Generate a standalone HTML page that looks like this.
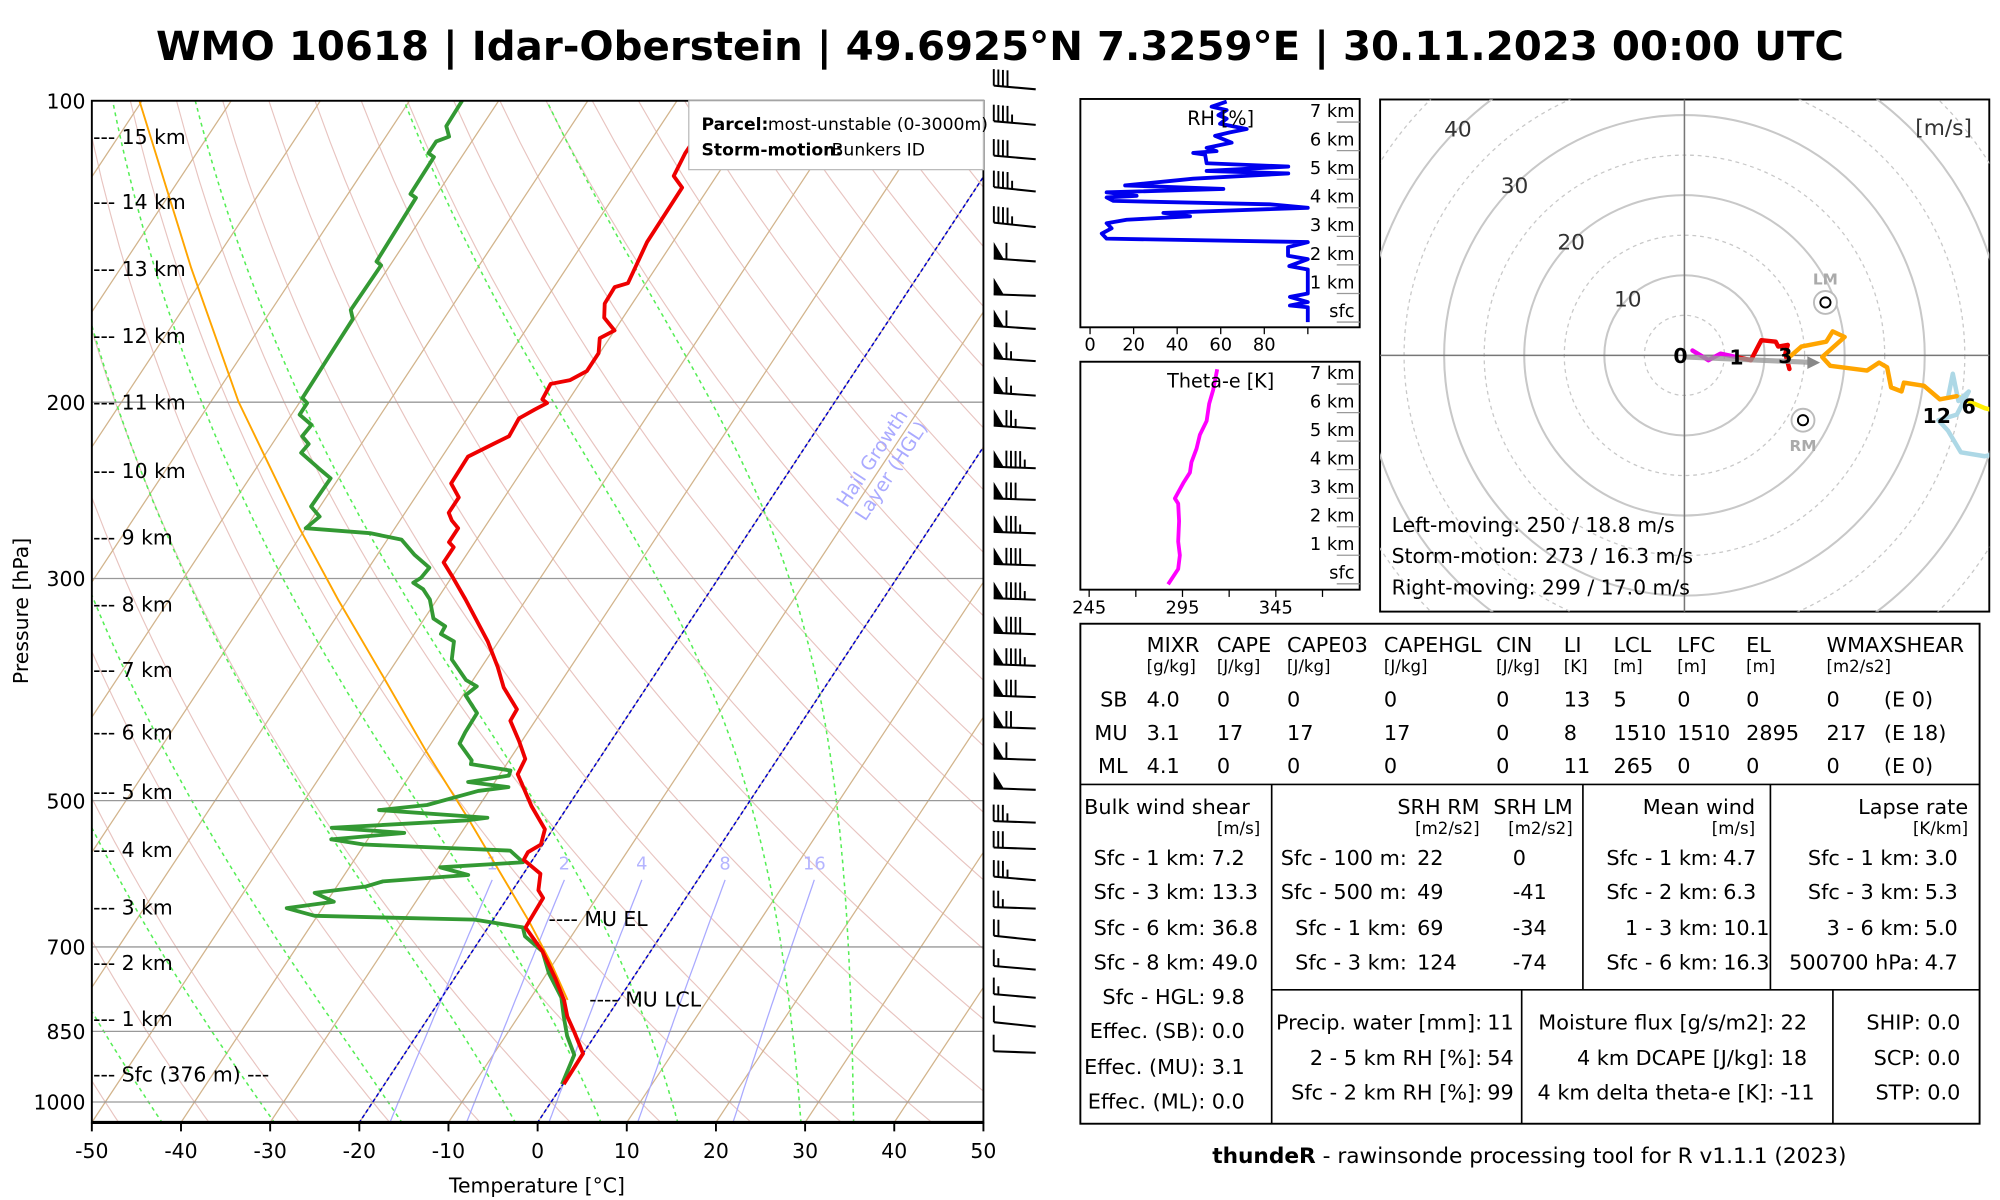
<!DOCTYPE html>
<html><head><meta charset="utf-8"><style>
html,body{margin:0;padding:0;background:#fff;}
svg{display:block;font-family:"DejaVu Sans","Liberation Sans",sans-serif;}
</style></head><body>
<svg id="root" width="2000" height="1200" viewBox="0 0 1568 940.8" preserveAspectRatio="none" xmlns="http://www.w3.org/2000/svg">
<defs>
<clipPath id="skclip"><rect x="72" y="79" width="699" height="801"/></clipPath>
<clipPath id="hodoclip"><rect x="1082" y="78" width="477.6" height="401.5"/></clipPath>
<clipPath id="rhclip"><rect x="847" y="77.6" width="219" height="179"/></clipPath>
<clipPath id="thclip"><rect x="847" y="283.6" width="219" height="178.7"/></clipPath>
</defs>
<text x="784" y="47" text-anchor="middle" font-size="31.6" font-weight="bold">WMO 10618 | Idar-Oberstein | 49.6925°N 7.3259°E | 30.11.2023 00:00 UTC</text>
<g id="skewt">
<rect x="72" y="79" width="699" height="801" fill="#fff"/>
<g id="skbg" clip-path="url(#skclip)"></g>
<g id="skdata" clip-path="url(#skclip)"></g>
<g id="skaxes"></g>
</g>
<g id="barbs"></g>
<g id="rhpanel"></g>
<g id="thpanel"></g>
<g id="hodo"></g>
<g id="tables"></g>
<text x="1199" y="912" text-anchor="middle" font-size="17"><tspan font-weight="bold">thundeR</tspan> - rawinsonde processing tool for R v1.1.1 (2023)</text>
</svg>
<script>
// ---------- Skew-T data ----------
const tempP = [100,112.8,118.9,122.1,138.4,152.1,153.5,159.4,164.7,169.6,172.6,178.7,186.2,190.1,191.8,198.7,200.4,203.4,207.6,216.3,220.2,226.7,241.1,249,257.9,262.5,267.2,276,279.2,289.1,299.5,314.8,346.7,367.7,385.5,405.3,416.1,436.1,454.3,470.6,506.4,533.9,553.1,562.9,572.9,591.6,614.5,625.5,669.2,707.4,752.2,790.9,821.6,851.1,894.5,959.8];
const tempT = [-55.1,-55.2,-54.8,-53.0,-52.9,-52.0,-53.2,-53.1,-52.1,-50.0,-51.1,-50.1,-50.1,-51.3,-53.2,-53.0,-52.2,-53.1,-54.2,-54.0,-55.2,-57.1,-57.0,-55.1,-55.1,-54.2,-52.9,-52.9,-52.0,-52.0,-49.8,-46.8,-41.2,-38.2,-36.0,-32.9,-32.8,-30.3,-28.3,-28.0,-24.1,-20.9,-20.2,-21.1,-21.0,-18.1,-17.1,-16.0,-15.8,-12.1,-8.7,-6.1,-4.5,-2.6,0.0,0.1];
const dewP = [100,106.0,108.6,109.8,112.8,113.8,123.9,125.0,144.7,146.0,161.8,165.2,198.1,200.4,205.8,210.7,216.3,220.2,224.7,232.8,238.3,254.2,260.2,267.2,270.3,274.4,284.2,292.7,299.5,303.0,307.5,314.8,328.9,334.8,340.8,346.7,361.4,378.8,384.5,392.4,408.9,427.2,438.5,455.8,459.8,466.6,472.1,479.1,484.7,489.0,505.0,511.0,520.0,523.1,532.3,538.6,546.6,553.1,561.0,576.1,582.9,593.3,602.1,609.2,618.2,631.0,640.3,651.6,657.4,669.2,683.1,707.4,743.4,786.2,821.6,858.8,897.2,959.8];
const dewT = [-84.1,-84.0,-82.9,-84.0,-84.0,-83.1,-83.0,-82.1,-81.8,-81.0,-81.1,-80.2,-80.0,-79.1,-79.1,-77.0,-77.2,-75.9,-76.1,-73.0,-70.9,-71.0,-69.3,-70.0,-62.4,-58.4,-55.8,-53.2,-53.4,-53.9,-52.3,-50.8,-49.0,-47.1,-47.0,-45.0,-43.9,-40.8,-39.1,-39.7,-37.1,-37.0,-36.8,-34.2,-34.0,-29.1,-28.9,-33.0,-28.1,-31.2,-35.9,-40.9,-28.2,-30.2,-44.9,-36.4,-44.1,-40.1,-23.2,-20.9,-29.8,-26.1,-35.2,-36.7,-42.0,-39.2,-44.0,-40.3,-22.1,-16.1,-15.2,-12.1,-9.8,-6.6,-4.9,-3.1,-0.9,-0.1];
const parcelP = [100,146.9,199.8,267.2,314.8,375.5,447.7,520,598.6,659.4,726.2,790.9];
const parcelT = [-120.3,-102.1,-86.9,-70.7,-61.1,-50.4,-39.8,-30.4,-21.8,-15.9,-10.3,-5.7];
const pressureTicks = [100,200,300,500,700,850,1000];
const tempTicks = [-50,-40,-30,-20,-10,0,10,20,30,40,50];
const kmLabels = ["15 km","14 km","13 km","12 km","11 km","10 km","9 km","8 km","7 km","6 km","5 km","4 km","3 km","2 km","1 km","Sfc (376 m) ---"];
const kmPressure = [108.8,126.4,147.5,172.0,200.5,234.6,273.5,318.9,370.8,428.1,491.1,561.0,640.3,727.5,827.6,940.0];
const mixRatios = [1,2,4,8,16];
const moistStartT = [-42,-29.4,-15.1,-2.4,7.2,15.8,29.6,35.5];
const hglBoundsT = [0,-20];
// ---------- wind barbs ----------
const barbP = [97.4,105.7,114.4,123.2,133.7,144.7,156.6,169.0,182.0,197.0,212.5,232.8,250.4,270.4,291.1,315.0,341.0,366.7,394.1,423.6,455.3,487.7,525.9,558.8,600.5,640.9,689.2,737.5,786.8,840.7,892.8];
const barbSpd = [40,45,40,45,45,60,50,60,65,65,75,95,80,85,90,95,90,95,80,70,60,50,35,30,35,25,20,15,15,10,10];
const barbDir = [275,275,275,276,276,274,272,274,274,274,274,272,272,272,272,272,272,272,272,272,272,272,272,272,275,272,276,275,275,276,272];
// ---------- RH / theta-e ----------
const rhH = [0,0.52,0.58,0.7,0.88,1.0,1.84,1.96,2.2,2.32,2.62,2.8,2.92,3.1,3.28,3.46,3.58,3.7,3.82,4.0,4.12,4.24,4.36,4.42,4.54,4.66,4.78,5.02,5.2,5.29,5.44,5.56,5.86,5.92,5.98,6.1,6.28,6.52,6.64,6.76,6.94,7.12,7.24,7.42,7.54,7.72];
const rhV = [100,100,91.8,100,91.8,100,100,91.5,100,90.9,90.9,100,7.6,5.4,9.9,7.6,16.8,45.9,33.7,100,82.6,10.7,7.6,21.4,7.6,61.2,16.1,47.4,91,53.5,91,53.5,52.8,47.4,58.1,53.5,65,57.4,64.2,71.9,59.7,62.7,58.9,62.7,55.8,62.7];
const rhTicks = [0,20,40,60,80];
const thH = [-0.02,0.52,1.0,1.48,2.2,2.81,2.99,3.53,3.9,4.26,4.74,5.22,5.71,6.31,6.79,7.52];
const thV = [287.3,292.7,293.6,292.7,293.2,292.7,290.9,295.4,299.0,299.8,302.5,304.3,307.9,309.3,311.4,313.6];
const thTicks = [245,295,345];
const heightLabels = ["sfc","1 km","2 km","3 km","4 km","5 km","6 km","7 km"];
// ---------- hodograph ----------
const hodoU0 = [1,3,4.5,6.5];
const hodoV0 = [0.6,-0.6,0.2,-0.2];
const hodoU1 = [6.5,8.3,9.6,11.4,11.7,12.9,12.6,13.1];
const hodoV1 = [-0.2,-0.6,1.9,1.7,1.1,1.3,0.2,-1.7];
const hodoU3 = [13.1,14.6,17.7,18.5,20,17.2,18.2,22.8,24.3,25.3,25.8,27.1,27.4,29.9,31.9,34];
const hodoV3 = [-0.2,1.1,1.7,3,2.3,-0.2,-1.3,-1.9,-0.9,-1.5,-4,-4.5,-3.4,-3.8,-5.5,-5.1];
const hodoU6 = [32.9,33.5,34.2,35.5,34,31.7,32.9,34.5,37.5,40];
const hodoV6 = [-5.3,-2.3,-5.7,-4.5,-7.4,-8.1,-9.4,-12.1,-12.6,-12];
const hodoU12 = [34,37.5,40];
const hodoV12 = [-5.1,-6.6,-7.2];
const ringSpeeds = [10,20,30,40];
const stormLM = [17.6,6.6];
const stormRM = [14.8,-8.1];
const meanWind = [16.3,-0.9];

const NS = "http://www.w3.org/2000/svg";
function mk(parent, tag, attrs, text){
  const e = document.createElementNS(NS, tag);
  for (const k in attrs) e.setAttribute(k, attrs[k]);
  if (text !== undefined) e.textContent = text;
  parent.appendChild(e);
  return e;
}
function Y(p){ return 79 + 785*Math.log10(p/100); }
function X(T,p){ return 421.5 + 6.99*T + 0.66*(880 - Y(p)); }
function es(Tc){ return 6.112*Math.exp(17.67*Tc/(Tc+243.5)); }
function pathFrom(ps, ts){ return ps.map((p,i)=>(i?"L":"M")+X(ts[i],p).toFixed(1)+","+Y(p).toFixed(1)).join(""); }

const bg = document.getElementById("skbg");
for (let th=-60; th<=230; th+=10){
  const pts=[]; for(let p=1050;p>=100;p-=10){ const T=(th+273.15)*Math.pow(p/1000,0.2857)-273.15; pts.push((pts.length?"L":"M")+X(T,p).toFixed(1)+","+Y(p).toFixed(1)); }
  const e = mk(bg,"path",{d:pts.join(""),fill:"none",stroke:"#e8c4c0","stroke-width":0.9});
  
  
}
for (let T=-160; T<=50; T+=10){
  const e = mk(bg,"line",{x1:X(T,1050),y1:Y(1050),x2:X(T,100),y2:Y(100),stroke:"#d2b48c","stroke-width":1});
  
  
}
function moist(T0,p0,pEnd){
  const Rd=287.04,cp=1005.7,Lv=2.501e6,eps=0.622,f=0.7; let T=T0+273.15; const ps=[p0], ts=[T0];
  for(let p=p0;p>pEnd;p-=5){ const e=es(T-273.15); const rs=f*eps*e/(p-e);
    const dTdp=(Rd*T+Lv*rs)/(p*(cp+Lv*Lv*rs*eps/(Rd*T*T))); T-=dTdp*5; ps.push(p-5); ts.push(T-273.15); }
  return [ps,ts];
}
moistStartT.forEach(T0=>{
  const r=moist(T0,1050,100);
  const e = mk(bg,"path",{d:pathFrom(r[0],r[1]),fill:"none",stroke:"#55ee55","stroke-width":1.2,"stroke-dasharray":"3,3"});
  
  
});
mixRatios.forEach(w=>{
  const ps=[],ts=[]; for(let p=1050;p>=600;p-=10){ const e=(w/1000)*p/(0.622+w/1000); const l=Math.log(e/6.112); ps.push(p); ts.push(243.5*l/(17.67-l)); }
  const e = mk(bg,"path",{d:pathFrom(ps,ts),fill:"none",stroke:"#aaaaff","stroke-width":1});
  
  
  const t = mk(bg,"text",{x:X(ts[ts.length-1],600),y:Y(600)-8,"text-anchor":"middle","font-size":14,fill:"#b4b4ff"},String(w));
  
  
});
pressureTicks.forEach(p=>{
  if(p===100) return;
  const e = mk(bg,"line",{x1:72,x2:771,y1:Y(p),y2:Y(p),stroke:"#999","stroke-width":1});
  
  
});
hglBoundsT.forEach(T=>{
  const e = mk(bg,"line",{x1:X(T,1050),y1:Y(1050),x2:X(T,100),y2:Y(100),stroke:"#0000cc","stroke-width":1.2,"stroke-dasharray":"3,2"});
  
  
});
const hg = mk(bg,"text",{x:0,y:0,"font-size":15,fill:"#aaaaff","text-anchor":"middle",transform:"translate(688,362) rotate(-56.6)"});


mk(hg,"tspan",{x:0,dy:0},"Hail Growth");
mk(hg,"tspan",{x:0,dy:18},"Layer (HGL)");

const dat = document.getElementById("skdata");
const pl = mk(dat,"path",{d:pathFrom(parcelP,parcelT),fill:"none",stroke:"orange","stroke-width":1.5});


const dl = mk(dat,"path",{d:pathFrom(dewP,dewT),fill:"none",stroke:"#339933","stroke-width":3,"stroke-linejoin":"round"});


const tl = mk(dat,"path",{d:pathFrom(tempP,tempT),fill:"none",stroke:"#ee0000","stroke-width":3,"stroke-linejoin":"round"});



const ax = document.getElementById("skaxes");
const frame = mk(ax,"rect",{x:72,y:79,width:699,height:801,fill:"none",stroke:"#000","stroke-width":1.5});


mk(ax,"line",{x1:72,x2:771,y1:880,y2:880,stroke:"#000","stroke-width":2.5});
pressureTicks.forEach(p=>{
  const t = mk(ax,"text",{x:67,y:Y(p)+6,"text-anchor":"end","font-size":16},String(p));
  
  
});
tempTicks.forEach(T=>{
  const x = 421.5 + 6.99*T;
  mk(ax,"line",{x1:x,x2:x,y1:880,y2:887,stroke:"#000","stroke-width":1.5});
  const t = mk(ax,"text",{x:x,y:908,"text-anchor":"middle","font-size":16},String(T));
  
  
});
kmLabels.forEach((s,i)=>{
  const t = mk(ax,"text",{x:73,y:Y(kmPressure[i])+5,"font-size":16},"--- "+s);
  
  
});
const xt = mk(ax,"text",{x:421,y:935,"text-anchor":"middle","font-size":16},"Temperature [°C]");


const yt = mk(ax,"text",{x:0,y:0,"text-anchor":"middle","font-size":16,transform:"translate(22,479) rotate(-90)"},"Pressure [hPa]");


const el1 = mk(ax,"text",{x:430,y:726,"font-size":16},"---- MU EL");


const lc = mk(ax,"text",{x:462,y:789,"font-size":16},"---- MU LCL");


const lg = mk(ax,"rect",{x:540,y:79,width:231,height:54,fill:"#fff",stroke:"#bbb","stroke-width":1});


mk(ax,"text",{x:602,y:102,"font-size":13.5},"most-unstable (0-3000m)");
mk(ax,"text",{x:550,y:102,"font-size":13.5,"font-weight":"bold"},"Parcel:");
mk(ax,"text",{x:652,y:122,"font-size":13.5},"Bunkers ID");
mk(ax,"text",{x:550,y:122,"font-size":13.5,"font-weight":"bold"},"Storm-motion:");

// ---------- barbs ----------
const bb = document.getElementById("barbs");
barbP.forEach((p,i)=>{
  const sx=812, sy=Y(p);
  const a=barbDir[i]*Math.PI/180; const ux=Math.sin(a), uy=-Math.cos(a);
  const px=-uy, py=ux; const L=33, bl=13;
  const g = mk(bb,"g",{});
  
  
  const ex=sx+ux*L, ey=sy+uy*L;
  mk(g,"line",{x1:sx,y1:sy,x2:ex,y2:ey,stroke:"#000","stroke-width":1.6});
  let s=Math.round(barbSpd[i]/5)*5, d=0;
  while(s>=50){ const bx=ex-ux*d, by=ey-uy*d;
    mk(g,"polygon",{points:`${bx},${by} ${bx-ux*8},${by-uy*8} ${bx},${by+py*bl}`,fill:"#000"}); d+=10; s-=50; }
  while(s>=10){ const bx=ex-ux*d, by=ey-uy*d;
    mk(g,"line",{x1:bx,y1:by,x2:bx,y2:by+py*bl,stroke:"#000","stroke-width":1.5}); d+=3.6; s-=10; }
  if(s>=5){ if(d===0) d=4; const bx=ex-ux*d, by=ey-uy*d;
    mk(g,"line",{x1:bx,y1:by,x2:bx,y2:by+py*bl/2,stroke:"#000","stroke-width":1.5}); }
});

// ---------- RH panel ----------
const rhp = document.getElementById("rhpanel");
function rhX(v){ return 854.6 + 1.7075*v; }
function rhY(h){ return 252.5 - 22.4*h; }
const rhframe = mk(rhp,"rect",{x:847,y:77.6,width:219,height:179,fill:"#fff",stroke:"#000","stroke-width":1.5});


heightLabels.forEach((s,i)=>{
  mk(rhp,"line",{x1:1048,x2:1066,y1:rhY(i),y2:rhY(i),stroke:"#999","stroke-width":1});
  const t = mk(rhp,"text",{x:1062,y:rhY(i)-4,"text-anchor":"end","font-size":14},s);
  
  
});
const rhl = mk(rhp,"path",{"clip-path":"url(#rhclip)",d:rhH.map((h,i)=>(i?"L":"M")+rhX(rhV[i]).toFixed(1)+","+rhY(h).toFixed(1)).join(""),fill:"none",stroke:"#0000ee","stroke-width":3,"stroke-linejoin":"round"});


const rht = mk(rhp,"text",{x:957,y:98,"text-anchor":"middle","font-size":15},"RH [%]");


rhTicks.concat([100]).forEach(v=>{
  mk(rhp,"line",{x1:rhX(v),x2:rhX(v),y1:256.6,y2:262,stroke:"#000","stroke-width":1});
  if(v<100){ const t = mk(rhp,"text",{x:rhX(v),y:275,"text-anchor":"middle","font-size":14},String(v));
    
     }
});

// ---------- theta-e panel ----------
const thp = document.getElementById("thpanel");
function thX(v){ return 853.9 + 1.4635*(v-245); }
function thY(h){ return 457.7 - 22.37*h; }
const thframe = mk(thp,"rect",{x:847,y:283.6,width:219,height:178.7,fill:"#fff",stroke:"#000","stroke-width":1.5});


heightLabels.forEach((s,i)=>{
  mk(thp,"line",{x1:1048,x2:1066,y1:thY(i),y2:thY(i),stroke:"#999","stroke-width":1});
  const t = mk(thp,"text",{x:1062,y:thY(i)-4,"text-anchor":"end","font-size":14},s);
  
  
});
const thl = mk(thp,"path",{"clip-path":"url(#thclip)",d:thH.map((h,i)=>(i?"L":"M")+thX(thV[i]).toFixed(1)+","+thY(h).toFixed(1)).join(""),fill:"none",stroke:"#ff00ff","stroke-width":3,"stroke-linejoin":"round"});


const tht = mk(thp,"text",{x:957,y:304,"text-anchor":"middle","font-size":15},"Theta-e [K]");


[245,270,295,320,345,370].forEach(v=>{
  mk(thp,"line",{x1:thX(v),x2:thX(v),y1:462.3,y2:468,stroke:"#000","stroke-width":1});
});
thTicks.forEach(v=>{
  const t = mk(thp,"text",{x:thX(v),y:481,"text-anchor":"middle","font-size":14},String(v));
  
  
});

// ---------- hodograph ----------
const hd = document.getElementById("hodo");
const HX=1320.6, HY=278.6, HS=6.28;
function hx(u){ return HX + HS*u; }
function hy(v){ return HY - HS*v; }
const hframe = mk(hd,"rect",{x:1082,y:78,width:477.6,height:401.5,fill:"#fff",stroke:"#000","stroke-width":1.5});


const hg2 = mk(hd,"g",{"clip-path":"url(#hodoclip)"});
for(let r=5;r<=70;r+=5){
  const c = mk(hg2,"circle",{cx:HX,cy:HY,r:r*HS,fill:"none",stroke:"#c8c8c8","stroke-width":r%10===0?1.6:1,"stroke-dasharray":r%10===0?"none":"3,3"});
  
  
}
mk(hg2,"line",{x1:1082,x2:1560,y1:HY,y2:HY,stroke:"#777","stroke-width":1.2});
mk(hg2,"line",{x1:HX,x2:HX,y1:78,y2:480,stroke:"#777","stroke-width":1.2});
ringSpeeds.forEach(s=>{
  const t = mk(hd,"text",{x:HX-s*HS*0.707,y:hy(s*0.707)+6,"text-anchor":"middle","font-size":17,fill:"#333"},String(s));
  
  
});
const mu = mk(hd,"text",{x:1546,y:106,"text-anchor":"end","font-size":17,fill:"#333"},"[m/s]");


function hodoLine(us,vs,col,name){
  const e = mk(hg2,"path",{d:us.map((u,i)=>(i?"L":"M")+hx(u).toFixed(1)+","+hy(vs[i]).toFixed(1)).join(""),fill:"none",stroke:col,"stroke-width":3.5,"stroke-linejoin":"round","stroke-linecap":"round"});
  
  
}
hodoLine(hodoU12,hodoV12,"#ffee00","hodograph-12km-plus");
hodoLine(hodoU6,hodoV6,"#add8e6","hodograph-6-12km");
hodoLine(hodoU3,hodoV3,"orange","hodograph-3-6km");
hodoLine(hodoU1,hodoV1,"#ee0000","hodograph-1-3km");
hodoLine(hodoU0,hodoV0,"#ee00ee","hodograph-0-1km");
const mw = mk(hg2,"line",{x1:hx(0),y1:hy(-0.2),x2:hx(meanWind[0]),y2:hy(meanWind[1]),stroke:"#999","stroke-width":4,opacity:0.8});


mk(hg2,"polygon",{points:`${hx(meanWind[0])+4},${hy(meanWind[1])} ${hx(meanWind[0])-6},${hy(meanWind[1])-5} ${hx(meanWind[0])-6},${hy(meanWind[1])+5}`,fill:"#888"});
[[stormLM,"LM",-14],[stormRM,"RM",24]].forEach(m=>{
  const cx=hx(m[0][0]), cy=hy(m[0][1]);
  const g = mk(hg2,"g",{});
  
  
  mk(g,"circle",{cx:cx,cy:cy,r:9,fill:"#fff",stroke:"#bbb","stroke-width":1.5});
  mk(g,"circle",{cx:cx,cy:cy,r:4,fill:"none",stroke:"#000","stroke-width":1.5});
  mk(g,"text",{x:cx,y:cy+m[2],"text-anchor":"middle","font-size":12,"font-weight":"bold",fill:"#aaa"},m[1]);
});
[["0",-0.5,0],["1",hodoU0[3],hodoV0[3]],["3",hodoU1[7]-0.5,0],["12",31.5,-7.5],["6",35.5,-6.3]].forEach(l=>{
  const t = mk(hd,"text",{x:hx(l[1]),y:hy(l[2])+6,"text-anchor":"middle","font-size":16,"font-weight":"bold"},l[0]);
  
  
});
["Left-moving: 250 / 18.8 m/s","Storm-motion: 273 / 16.3 m/s","Right-moving: 299 / 17.0 m/s"].forEach((s,i)=>{
  const t = mk(hd,"text",{x:1091,y:417+i*24.5,"font-size":16},s);
  
  
});

// ---------- tables ----------
const tb = document.getElementById("tables");
function T(x,y,s,anchor,extra){ const a={x:x,y:y,"font-size":16.3,"text-anchor":anchor||"start"}; if(extra) Object.assign(a,extra); return mk(tb,"text",a,s); }
const box = mk(tb,"rect",{x:847,y:489,width:705,height:392,fill:"#fff",stroke:"#000","stroke-width":1.5});


[[847,615,1552,615],[997,615,997,881],[1241,615,1241,776],[1388,615,1388,776],[997,776,1552,776],[1193,776,1193,881],[1437,776,1437,881]].forEach(l=>mk(tb,"line",{x1:l[0],y1:l[1],x2:l[2],y2:l[3],stroke:"#000","stroke-width":1.3}));
const cols=[899,954,1009,1085,1173,1226,1265,1315,1369,1432];
const hdr=["MIXR","CAPE","CAPE03","CAPEHGL","CIN","LI","LCL","LFC","EL","WMAXSHEAR"];
const units=["[g/kg]","[J/kg]","[J/kg]","[J/kg]","[J/kg]","[K]","[m]","[m]","[m]","[m2/s2]"];
hdr.forEach((h,i)=>{ T(cols[i],511,h); T(cols[i],527,units[i],"start",{"font-size":13}); });
const rows=[["SB","4.0","0","0","0","0","13","5","0","0","0","(E 0)"],["MU","3.1","17","17","17","0","8","1510","1510","2895","217","(E 18)"],["ML","4.1","0","0","0","0","11","265","0","0","0","(E 0)"]];
rows.forEach((r,j)=>{ const y=554+j*26; T(884,y,r[0],"end"); for(let i=0;i<10;i++) T(cols[i],y,r[i+1]); T(1477,y,r[11]); });
T(850,638,"Bulk wind shear"); T(988,654,"[m/s]","end",{"font-size":13});
T(1160,638,"SRH RM","end"); T(1160,654,"[m2/s2]","end",{"font-size":13});
T(1233,638,"SRH LM","end"); T(1233,654,"[m2/s2]","end",{"font-size":13});
T(1376,638,"Mean wind","end"); T(1376,654,"[m/s]","end",{"font-size":13});
T(1543,638,"Lapse rate","end"); T(1543,654,"[K/km]","end",{"font-size":13});
const rY=[678,705,733,760,787,814,842,869];
[["Sfc - 1 km:","7.2"],["Sfc - 3 km:","13.3"],["Sfc - 6 km:","36.8"],["Sfc - 8 km:","49.0"],["Sfc - HGL:","9.8"],["Effec. (SB):","0.0"],["Effec. (MU):","3.1"],["Effec. (ML):","0.0"]].forEach((r,i)=>{ T(945,rY[i],r[0],"end"); T(950,rY[i],r[1]); });
[["Sfc - 100 m:","22","0"],["Sfc - 500 m:","49","-41"],["Sfc - 1 km:","69","-34"],["Sfc - 3 km:","124","-74"]].forEach((r,i)=>{ T(1103,rY[i],r[0],"end"); T(1111,rY[i],r[1]); T(1186,rY[i],r[2]); });
[["Sfc - 1 km:","4.7"],["Sfc - 2 km:","6.3"],["1 - 3 km:","10.1"],["Sfc - 6 km:","16.3"]].forEach((r,i)=>{ T(1347,rY[i],r[0],"end"); T(1351,rY[i],r[1]); });
[["Sfc - 1 km:","3.0"],["Sfc - 3 km:","5.3"],["3 - 6 km:","5.0"],["500700 hPa:","4.7"]].forEach((r,i)=>{ T(1505,rY[i],r[0],"end"); T(1509,rY[i],r[1]); });
const bY=[807,835,862];
[["Precip. water [mm]:","11"],["2 - 5 km RH [%]:","54"],["Sfc - 2 km RH [%]:","99"]].forEach((r,i)=>{ T(1162,bY[i],r[0],"end"); T(1166,bY[i],r[1]); });
[["Moisture flux [g/s/m2]:","22"],["4 km DCAPE [J/kg]:","18"],["4 km delta theta-e [K]:","-11"]].forEach((r,i)=>{ T(1391,bY[i],r[0],"end"); T(1396,bY[i],r[1]); });
[["SHIP:","0.0"],["SCP:","0.0"],["STP:","0.0"]].forEach((r,i)=>{ T(1506,bY[i],r[0],"end"); T(1511,bY[i],r[1]); });
</script>
</body></html>
